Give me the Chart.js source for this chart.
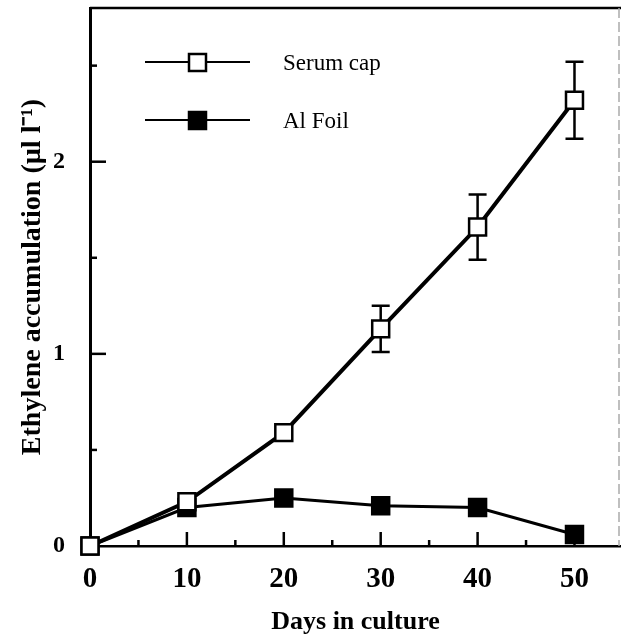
<!DOCTYPE html>
<html>
<head>
<meta charset="utf-8">
<script src="https://cdn.jsdelivr.net/npm/chart.js@4.4.0/dist/chart.umd.min.js"></script>
<style>
  body { margin: 0; background: #fff; }
</style>
</head>
<body>
<canvas id="chart" width="621" height="638"></canvas>
<script>
// data
var days = [0, 10, 20, 30, 40, 50];
var serumCap = [0, 0.23, 0.59, 1.13, 1.66, 2.32];
var serumErr = [0, 0, 0, 0.12, 0.17, 0.2];
var alFoil = [0, 0.2, 0.25, 0.21, 0.2, 0.06];
var seriesNames = ["Serum cap", "Al Foil"];

function toPoints(ys) {
  return days.map(function (d, i) { return { x: d, y: ys[i] }; });
}

// error bars, inward tick marks, frame and the inset legend
var extras = {
  id: 'extras',
  beforeDatasetsDraw: function (chart) {
    var ctx = chart.ctx, xs = chart.scales.x, ys = chart.scales.y, a = chart.chartArea;
    ctx.save();
    ctx.strokeStyle = '#000';
    ctx.lineWidth = 2.5;
    // x ticks pointing up
    xs.ticks.forEach(function (t) {
      if (t.value % 5 !== 0 || t.value === 0) return;
      var px = xs.getPixelForValue(t.value);
      var len = t.value % 10 === 0 ? 14 : 6;
      ctx.beginPath();
      ctx.moveTo(px, a.bottom);
      ctx.lineTo(px, a.bottom - len);
      ctx.stroke();
    });
    // y ticks pointing right
    ys.ticks.forEach(function (t) {
      if (Math.abs(t.value * 2 - Math.round(t.value * 2)) > 1e-6 || t.value === 0) return;
      var py = ys.getPixelForValue(t.value);
      var len = Number.isInteger(t.value) ? 16 : 7;
      ctx.beginPath();
      ctx.moveTo(a.left, py);
      ctx.lineTo(a.left + len, py);
      ctx.stroke();
    });
    // top frame line
    ctx.beginPath();
    ctx.moveTo(a.left, a.top);
    ctx.lineTo(a.right, a.top);
    ctx.stroke();
    // faint right edge
    ctx.strokeStyle = '#aaa';
    ctx.lineWidth = 1.5;
    ctx.setLineDash([10, 4]);
    ctx.beginPath();
    ctx.moveTo(a.right - 2, a.top);
    ctx.lineTo(a.right - 2, a.bottom);
    ctx.stroke();
    ctx.setLineDash([]);
    // error bars for serum cap
    ctx.strokeStyle = '#000';
    ctx.lineWidth = 2.5;
    days.forEach(function (d, i) {
      if (!serumErr[i]) return;
      var px = xs.getPixelForValue(d);
      var hi = ys.getPixelForValue(serumCap[i] + serumErr[i]);
      var lo = ys.getPixelForValue(serumCap[i] - serumErr[i]);
      ctx.beginPath();
      ctx.moveTo(px, hi);
      ctx.lineTo(px, lo);
      ctx.moveTo(px - 9, hi);
      ctx.lineTo(px + 9, hi);
      ctx.moveTo(px - 9, lo);
      ctx.lineTo(px + 9, lo);
      ctx.stroke();
    });
    ctx.restore();
  },
  afterDraw: function (chart) {
    var ctx = chart.ctx;
    ctx.save();
    chart.data.datasets.forEach(function (ds, i) {
      var y = 62 + i * 58;
      ctx.strokeStyle = '#000';
      ctx.lineWidth = 2;
      ctx.beginPath();
      ctx.moveTo(145, y);
      ctx.lineTo(250, y);
      ctx.stroke();
      ctx.fillStyle = ds.pointBackgroundColor;
      ctx.fillRect(189, y - 8, 17, 17);
      ctx.lineWidth = 2.5;
      ctx.strokeRect(189, y - 8, 17, 17);
      ctx.fillStyle = '#000';
      ctx.font = '23px "Liberation Serif"';
      ctx.textBaseline = 'middle';
      ctx.fillText(ds.label, 283, y + 2);
    });
    ctx.restore();
  }
};

var ctx = document.getElementById('chart');
var chart = new Chart(ctx, {
  type: 'line',
  data: {
    datasets: [{
      label: seriesNames[0],
      data: toPoints(serumCap),
      borderColor: '#000',
      borderWidth: 4,
      pointStyle: 'rect',
      pointRadius: 12,
      pointBorderWidth: 2.5,
      pointBorderColor: '#000',
      pointBackgroundColor: '#fff',
      clip: false
    }, {
      label: seriesNames[1],
      data: toPoints(alFoil),
      borderColor: '#000',
      borderWidth: 3,
      pointStyle: 'rect',
      pointRadius: 12,
      pointBorderWidth: 2.5,
      pointBorderColor: '#000',
      pointBackgroundColor: '#000',
      clip: false
    }]
  },
  options: {
    responsive: false,
    animation: false,
    layout: { autoPadding: false, padding: { top: 8, right: 0, left: 0, bottom: 0 } },
    plugins: { legend: { display: false }, tooltip: { enabled: false } },
    scales: {
      x: {
        type: 'linear',
        min: 0,
        max: 54.8,
        afterFit: function (s) {
          s.height = 92;
          s.paddingLeft = 0;
          s.paddingRight = 0;
        },
        grid: { display: false, drawTicks: false },
        border: { display: true, color: '#000', width: 2.5 },
        ticks: {
          stepSize: 5,
          includeBounds: false,
          autoSkip: false,
          maxRotation: 0,
          padding: 16,
          color: '#000',
          font: { family: 'Liberation Serif', size: 29, weight: 'bold' },
          callback: function (v) { return v % 10 === 0 ? v : ''; }
        },
        title: {
          display: true,
          text: 'Days in culture',
          color: '#000',
          padding: { top: 0, bottom: 0 },
          font: { family: 'Liberation Serif', size: 26, weight: 'bold' }
        }
      },
      y: {
        min: 0,
        max: 2.8,
        afterFit: function (s) {
          s.width = 90;
          s.paddingTop = 0;
          s.paddingBottom = 0;
        },
        grid: { display: false, drawTicks: false },
        border: { display: true, color: '#000', width: 3 },
        ticks: {
          stepSize: 0.5,
          includeBounds: false,
          autoSkip: false,
          padding: 25,
          color: '#000',
          font: { family: 'Liberation Serif', size: 24, weight: 'bold' },
          callback: function (v) { return Number.isInteger(v) ? v : ''; }
        },
        title: {
          display: true,
          text: 'Ethylene accumulation (µl l⁻¹)',
          color: '#000',
          padding: { top: 16, bottom: 0 },
          font: { family: 'Liberation Serif', size: 28, weight: 'bold' }
        }
      }
    }
  },
  plugins: [extras]
});
</script>
</body>
</html>
